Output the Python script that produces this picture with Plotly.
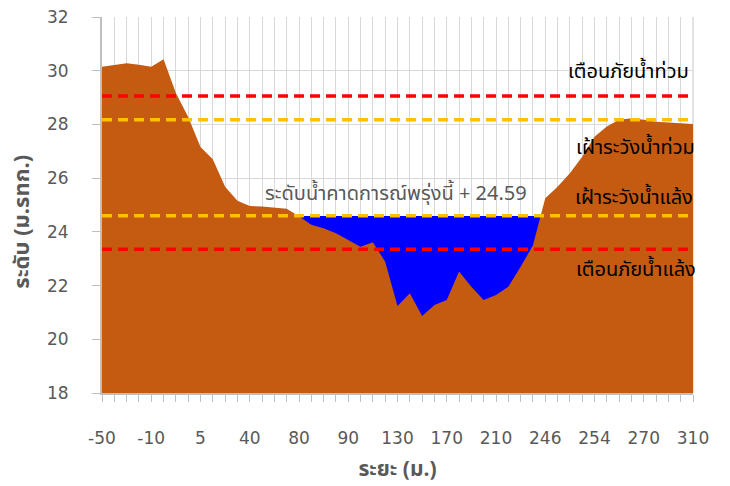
import plotly.graph_objects as go

# Cross-section distances (m) – one entry per surveyed point
distances = ["-50", "-40", "-30", "-20", "-10", "-5", "0", "2", "5", "10",
             "20", "30", "40", "50", "60", "70", "80", "82", "84", "86",
             "90", "100", "110", "120", "130", "140", "150", "160", "170", "180",
             "190", "200", "210", "220", "230", "240", "246", "248", "250", "252",
             "254", "258", "262", "266", "270", "280", "290", "300", "310"]

# Bed elevation (m MSL) at each distance
bed_elevation = [30.15, 30.22, 30.28, 30.22, 30.15, 30.43, 29.17, 28.28, 27.16, 26.70,
                 25.68, 25.16, 24.96, 24.94, 24.89, 24.86, 24.58, 24.26, 24.13, 23.95,
                 23.70, 23.45, 23.61, 22.89, 21.24, 21.71, 20.87, 21.28, 21.46, 22.52,
                 21.96, 21.46, 21.65, 21.96, 22.70, 23.50, 25.25, 25.68, 26.18, 26.80,
                 27.54, 27.92, 28.17, 28.23, 28.17, 28.10, 28.07, 28.04, 28.02]

# Forecast water level for tomorrow (m MSL)
water_level = 24.59

# Threshold levels (m MSL)
flood_warning = 29.06
flood_watch = 28.17
drought_watch = 24.60
drought_warning = 23.35

threshold_names = ["เตือนภัยน้ำท่วม", "เฝ้าระวังน้ำท่วม", "เฝ้าระวังน้ำแล้ง", "เตือนภัยน้ำแล้ง"]

y_ticks = [18, 20, 22, 24, 26, 28, 30, 32]

THAI_FONT = "Tahoma, 'Leelawadee UI', 'Noto Sans Thai', 'Noto Sans', 'DejaVu Sans', sans-serif"
GRAY = "#595959"
GRID = "#D9D9D9"

idx = list(range(len(distances)))
n = len(distances)

fig = go.Figure()

# water surface (drawn first so the river bed covers it on the banks)
fig.add_trace(go.Scatter(
    x=idx, y=[water_level] * n, mode="lines", line=dict(width=0, color="#0000FF"),
    fill="tozeroy", fillcolor="#0000FF", hoverinfo="skip", showlegend=False))

# river bed
fig.add_trace(go.Scatter(
    x=idx, y=bed_elevation, mode="lines", line=dict(width=0, color="#C55A11"),
    fill="tozeroy", fillcolor="#C55A11", text=distances,
    hovertemplate="ระยะ %{text} ม.<br>ระดับ %{y:.2f}<extra></extra>", showlegend=False))

# threshold lines
for level, color in [(flood_warning, "#FF0000"), (flood_watch, "#FFC000"),
                     (drought_watch, "#FFC000"), (drought_warning, "#FF0000")]:
    fig.add_trace(go.Scatter(
        x=[idx[0], idx[-1]], y=[level, level], mode="lines",
        line=dict(color=color, width=3.5, dash="10px,6px"),
        hoverinfo="skip", showlegend=False))

# threshold labels on the right side
label_y = [29.96, 27.12, 25.26, 22.58]
label_right = [0.996, 1.006, 1.004, 1.008]
for name, ly, rx in zip(threshold_names, label_y, label_right):
    fig.add_annotation(x=rx, xref="paper", y=ly, yref="y", text=name, showarrow=False,
                       xanchor="right", yanchor="middle",
                       font=dict(family=THAI_FONT, size=20, color="#000000"))

# forecast water level label
fig.add_annotation(x=23.84, y=25.41, xref="x", yref="y",
                   text=f"ระดับน้ำคาดการณ์พรุ่งนี้ + {water_level:.2f}",
                   showarrow=False, xanchor="center", yanchor="middle",
                   font=dict(family=THAI_FONT, size=20, color=GRAY))

# y-axis title, placed a little below the axis centre
fig.add_annotation(x=-0.134, y=0.455, xref="paper", yref="paper",
                   text="<b>ระดับ (ม.รทก.)</b>", textangle=-90, showarrow=False,
                   xanchor="center", yanchor="middle",
                   font=dict(family=THAI_FONT, size=22, color=GRAY))

fig.update_layout(
    width=730, height=486,
    margin=dict(l=102, r=37, t=17, b=93),
    paper_bgcolor="white", plot_bgcolor="white",
    font=dict(family=THAI_FONT, color=GRAY),
)

fig.update_xaxes(
    range=[0, n - 1],
    automargin=False,
    tickmode="array",
    tickvals=idx[::4], ticktext=distances[::4],
    ticks="outside", ticklen=7, tickcolor="#BFBFBF", tickwidth=1,
    ticklabelstandoff=22,
    tickfont=dict(family="DejaVu Sans, sans-serif", size=17, color=GRAY),
    showgrid=True, gridcolor=GRID, gridwidth=1,
    minor=dict(dtick=1, tick0=0, ticks="outside", ticklen=7, tickcolor="#BFBFBF",
               showgrid=True, gridcolor=GRID, gridwidth=1),
    showline=True, linecolor="#BFBFBF", linewidth=2, mirror=False,
    zeroline=False,
    title=dict(text="<b>ระยะ (ม.)</b>", standoff=14,
               font=dict(family=THAI_FONT, size=21, color=GRAY)),
)

fig.update_yaxes(
    range=[18, 32],
    automargin=False,
    tickmode="array", tickvals=y_ticks,
    ticks="outside", ticklen=8, tickcolor="#BFBFBF", tickwidth=1,
    ticklabelstandoff=20,
    tickfont=dict(family="DejaVu Sans, sans-serif", size=17, color=GRAY),
    showgrid=True, gridcolor=GRID, gridwidth=1,
    showline=True, linecolor="#BFBFBF", linewidth=2,
    zeroline=False,
)

# right-hand frame line of the plot area
fig.add_shape(type="line", xref="paper", yref="paper", x0=1, x1=1, y0=0, y1=1,
              line=dict(color=GRID, width=1.5), layer="below")

fig.write_html("out.html")
